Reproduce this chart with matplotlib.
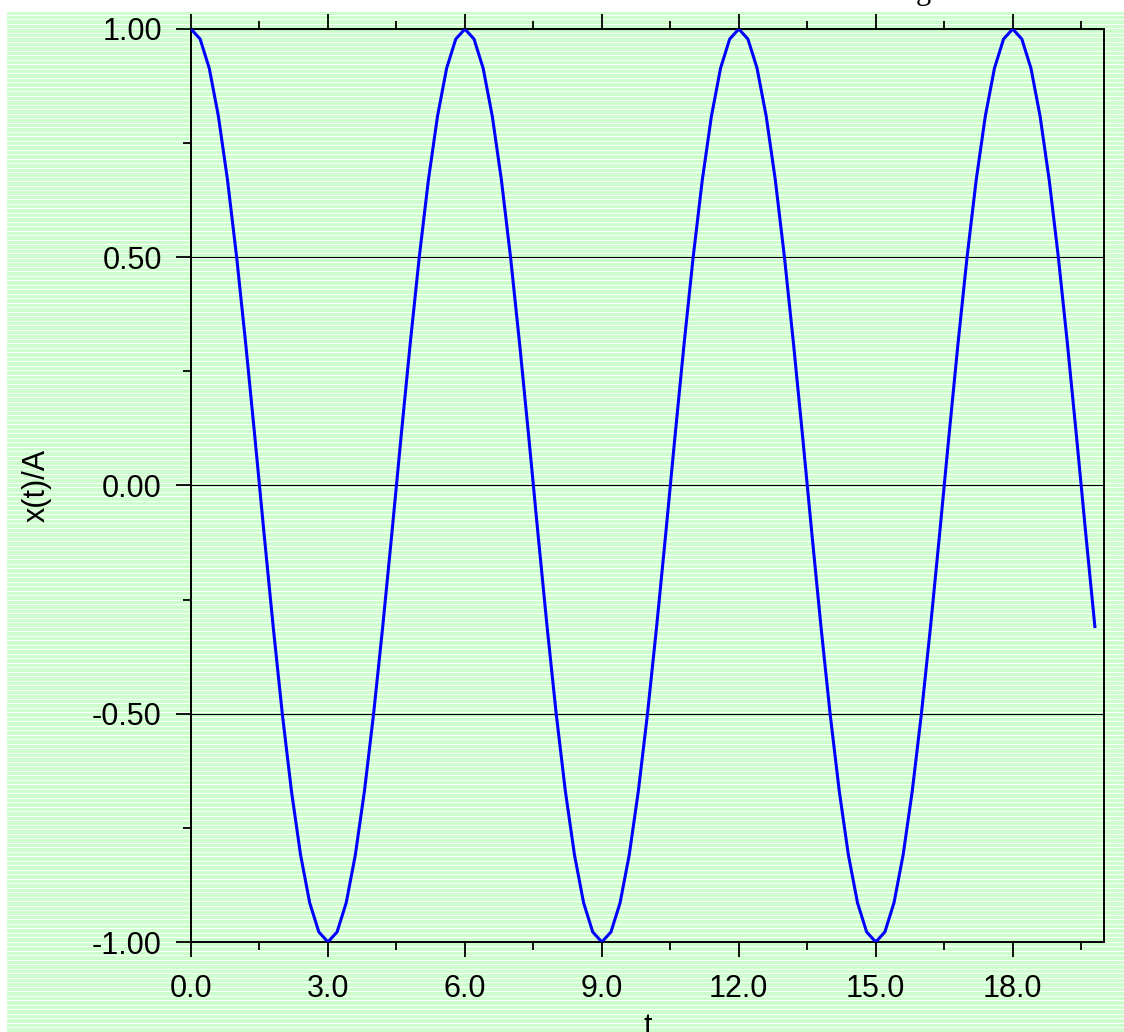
import numpy as np
import matplotlib.pyplot as plt
from matplotlib.ticker import MultipleLocator, FormatStrFormatter

plt.rcParams['font.family'] = ['Liberation Sans', 'DejaVu Sans']
plt.rcParams['axes.unicode_minus'] = False

# time samples (step 0.2) and normalised displacement
t = [0.0, 0.2, 0.4, 0.6, 0.8, 1.0, 1.2, 1.4, 1.6, 1.8,
     2.0, 2.2, 2.4, 2.6, 2.8, 3.0, 3.2, 3.4, 3.6, 3.8,
     4.0, 4.2, 4.4, 4.6, 4.8, 5.0, 5.2, 5.4, 5.6, 5.8,
     6.0, 6.2, 6.4, 6.6, 6.8, 7.0, 7.2, 7.4, 7.6, 7.8,
     8.0, 8.2, 8.4, 8.6, 8.8, 9.0, 9.2, 9.4, 9.6, 9.8,
     10.0, 10.2, 10.4, 10.6, 10.8, 11.0, 11.2, 11.4, 11.6, 11.8,
     12.0, 12.2, 12.4, 12.6, 12.8, 13.0, 13.2, 13.4, 13.6, 13.8,
     14.0, 14.2, 14.4, 14.6, 14.8, 15.0, 15.2, 15.4, 15.6, 15.8,
     16.0, 16.2, 16.4, 16.6, 16.8, 17.0, 17.2, 17.4, 17.6, 17.8,
     18.0, 18.2, 18.4, 18.6, 18.8, 19.0, 19.2, 19.4, 19.6, 19.8]
x_over_A = [1.000, 0.978, 0.914, 0.809, 0.669, 0.500, 0.309, 0.105, -0.105, -0.309,
            -0.500, -0.669, -0.809, -0.914, -0.978, -1.000, -0.978, -0.914, -0.809, -0.669,
            -0.500, -0.309, -0.105, 0.105, 0.309, 0.500, 0.669, 0.809, 0.914, 0.978,
            1.000, 0.978, 0.914, 0.809, 0.669, 0.500, 0.309, 0.105, -0.105, -0.309,
            -0.500, -0.669, -0.809, -0.914, -0.978, -1.000, -0.978, -0.914, -0.809, -0.669,
            -0.500, -0.309, -0.105, 0.105, 0.309, 0.500, 0.669, 0.809, 0.914, 0.978,
            1.000, 0.978, 0.914, 0.809, 0.669, 0.500, 0.309, 0.105, -0.105, -0.309,
            -0.500, -0.669, -0.809, -0.914, -0.978, -1.000, -0.978, -0.914, -0.809, -0.669,
            -0.500, -0.309, -0.105, 0.105, 0.309, 0.500, 0.669, 0.809, 0.914, 0.978,
            1.000, 0.978, 0.914, 0.809, 0.669, 0.500, 0.309, 0.105, -0.105, -0.309]

W, H = 1124, 1032
fig = plt.figure(figsize=(W / 100, H / 100), dpi=100)

# striped green backdrop
bg_top = 12
bg = fig.add_axes([7 / W, 0, 1 - 7 / W, (H - bg_top) / H])
rows = H - bg_top
stripes = np.ones((rows, 1, 3))
stripes[:, 0, :] = [0.8, 1.0, 0.8]
for r in range(rows):
    if r % 9 in (3, 7):
        stripes[r, 0, :] = [1.0, 1.0, 1.0]
bg.imshow(stripes, aspect='auto', interpolation='nearest', extent=[0, 1, 0, 1])
bg.set_axis_off()

ax = fig.add_axes([191 / W, 1 - 942 / H, (1104 - 191) / W, (942 - 29) / H])
ax.patch.set_visible(False)

ax.plot(t, x_over_A, color='#0000ff', lw=2.2, zorder=3)

ax.set_xlim(0, 20)
ax.set_ylim(-1, 1)
ax.xaxis.set_major_locator(MultipleLocator(3))
ax.xaxis.set_minor_locator(MultipleLocator(1.5))
ax.yaxis.set_major_locator(MultipleLocator(0.5))
ax.yaxis.set_minor_locator(MultipleLocator(0.25))
ax.xaxis.set_major_formatter(FormatStrFormatter('%.1f'))
ax.yaxis.set_major_formatter(FormatStrFormatter('%.2f'))

ax.grid(axis='y', which='major', color='black', lw=0.8)
for s in ax.spines.values():
    s.set_linewidth(1.4)

ax.tick_params(which='both', direction='out', top=True, bottom=True, left=True, right=False,
               width=1.3, labelsize=22)
ax.tick_params(which='major', length=11)
ax.tick_params(which='minor', length=6)
ax.tick_params(axis='x', which='major', pad=12)
ax.tick_params(axis='y', which='major', pad=10)

ax.set_xlabel('t', fontsize=22, labelpad=6)
ax.set_ylabel('x(t)/A', fontsize=22, labelpad=29)

# title mostly outside the canvas, only a descender shows
fig.text(923 / W, 1 + 1 / H, 'g', fontsize=22, family='Liberation Serif',
         ha='center', va='baseline')

fig.savefig('out.png', dpi=100)
